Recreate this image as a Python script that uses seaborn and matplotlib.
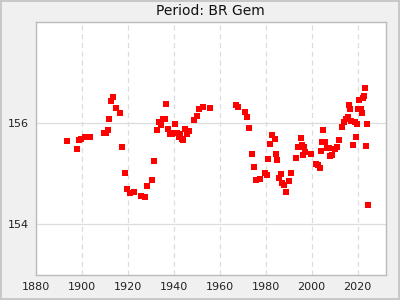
import matplotlib
matplotlib.use("Agg")
import matplotlib.pyplot as plt
from matplotlib.ticker import MultipleLocator
import seaborn as sns
import pandas as pd

years = [1893.8, 1898.1, 1899.0, 1899.9, 1901.3, 1902.3, 1903.5, 1909.9, 1910.8, 1911.6,
         1912.0, 1912.9, 1913.8, 1915.1, 1916.8, 1917.7, 1919.0, 1919.9, 1921.2, 1922.9,
         1925.9, 1927.7, 1928.6, 1930.7, 1931.6, 1932.9, 1933.8, 1934.5, 1935.2, 1936.1,
         1936.8, 1937.7, 1938.4, 1939.3, 1940.1, 1940.7, 1941.3, 1942.3, 1942.9, 1943.8,
         1944.2, 1945.1, 1945.9, 1946.8, 1949.0, 1950.3, 1951.2, 1952.9, 1955.9, 1967.2,
         1968.1, 1971.2, 1972.0, 1972.9, 1974.2, 1975.1, 1975.9, 1977.7, 1979.9, 1980.7,
         1981.2, 1982.0, 1982.9, 1984.2, 1984.6, 1985.1, 1985.9, 1986.8, 1987.2, 1988.1,
         1989.0, 1990.3, 1991.2, 1993.3, 1994.2, 1995.5, 1995.9, 1996.4, 1996.8, 1997.2,
         1999.9, 2002.0, 2002.9, 2003.8, 2004.2, 2004.6, 2005.1, 2005.9, 2006.8, 2007.7,
         2008.1, 2009.0, 2010.3, 2011.2, 2012.0, 2013.3, 2014.2, 2015.1, 2015.9, 2016.4,
         2016.8, 2017.2, 2018.1, 2018.9, 2019.4, 2019.9, 2020.3, 2020.7, 2021.6, 2022.0,
         2022.5, 2022.9, 2023.3, 2023.8, 2024.2, 2024.6]

periods = [155.64, 155.49, 155.66, 155.68, 155.72, 155.72, 155.72, 155.80, 155.80, 155.86,
           156.08, 156.44, 156.51, 156.30, 156.20, 155.52, 155.01, 154.69, 154.61, 154.63,
           154.57, 154.55, 154.75, 154.87, 155.25, 155.86, 156.02, 155.96, 156.08, 156.08,
           156.38, 155.88, 155.79, 155.79, 155.80, 155.98, 155.80, 155.72, 155.78, 155.68,
           155.66, 155.88, 155.78, 155.84, 156.06, 156.14, 156.28, 156.32, 156.30, 156.36,
           156.32, 156.22, 156.12, 155.90, 155.39, 155.13, 154.87, 154.89, 155.01, 154.97,
           155.29, 155.58, 155.76, 155.68, 155.39, 155.27, 154.91, 154.99, 154.81, 154.77,
           154.63, 154.85, 155.01, 155.31, 155.52, 155.70, 155.56, 155.37, 155.52, 155.43,
           155.39, 155.19, 155.17, 155.11, 155.45, 155.62, 155.86, 155.62, 155.50, 155.50,
           155.35, 155.37, 155.49, 155.52, 155.66, 155.92, 156.02, 156.08, 156.12, 156.36,
           156.28, 156.04, 155.56, 156.02, 155.72, 155.98, 156.28, 156.46, 156.28, 156.20,
           156.50, 156.53, 156.69, 155.54, 155.98, 154.38]

title = "Period: BR Gem"

df = pd.DataFrame({"year": years, "period": periods})

sns.set_style("white")
plt.rcParams['font.family'] = ['DejaVu Sans']

fig = plt.figure(figsize=(4, 3), dpi=100, facecolor="#f0f0f0")
fig.patch.set_edgecolor("#c8c8c8")
fig.patch.set_linewidth(1.5)
ax = fig.add_axes([0.089, 0.083, 0.875, 0.845])
ax.set_facecolor("white")

sns.scatterplot(data=df, x="year", y="period", marker="s", color="#ff0000",
                s=13, linewidth=0, ax=ax, zorder=3)

ax.set_xlim(1880, 2032.2)
ax.set_ylim(153, 158)
ax.xaxis.set_major_locator(MultipleLocator(20))
ax.xaxis.set_minor_locator(MultipleLocator(10))
ax.yaxis.set_major_locator(MultipleLocator(2))
ax.yaxis.set_minor_locator(MultipleLocator(1))
ax.set_yticks([154, 156])
ax.set_yticklabels(["154", "156"])

ax.grid(axis="x", which="major", color="#dddddd", linestyle=(0, (4, 3)), linewidth=0.9, zorder=0)
ax.grid(axis="y", which="major", color="#dddddd", linestyle="-", linewidth=0.9, zorder=0)

ax.tick_params(axis="both", which="major", direction="in", length=3, width=0.8,
               labelsize=8, colors="#222222", pad=5)
ax.tick_params(axis="both", which="minor", direction="in", length=3, width=0.8,
               color="#444444")
for s in ax.spines.values():
    s.set_color("#bbbbbb")
    s.set_linewidth(1)

ax.set_xlabel("")
ax.set_ylabel("")
ax.set_title(title, fontsize=10, color="#111111", pad=5)

fig.savefig("out.png", dpi=100, facecolor=fig.get_facecolor(), edgecolor=fig.patch.get_edgecolor())
